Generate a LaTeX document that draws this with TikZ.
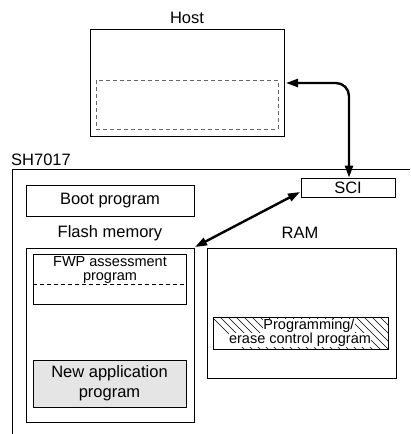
\documentclass[tikz,border=0pt]{standalone}
\usepackage{fontspec}
\setmainfont{Liberation Sans}
\usetikzlibrary{arrows.meta}
\begin{document}
\begin{tikzpicture}[x=1bp,y=-1bp,
  box/.style={draw,line width=0.8bp},
  lbl/.style={font=\fontsize{16.5bp}{18bp}\selectfont,inner sep=0},
  small/.style={font=\fontsize{14.5bp}{13.5bp}\selectfont,inner sep=0,align=center},
  bigarrow/.style={line width=2.4bp,{Triangle[length=12bp,width=8bp]}-{Triangle[length=12bp,width=8bp]}}]
\useasboundingbox (0,0) rectangle (410,434);
% Host
\node[lbl] (hostlbl) at (187,18) {Host};
\draw[box] (90,29) rectangle (284,136);
\coordinate (hostin) at (286,83);
\draw[line width=0.8bp,dashed,dash pattern=on 4bp off 3bp,gray!80!black] (96,80) rectangle (278,129);
% SH7017
\node[lbl,anchor=west] (shlbl) at (11,160) {SH7017};
\draw[line width=0.8bp] (410,169) -- (12,169) -- (12,434);
% SCI
\node[box,lbl,minimum width=94bp,minimum height=19bp] (sci) at (348,187.5) {SCI};
% Boot
\node[box,lbl,minimum width=168bp,minimum height=31bp] (boot) at (110,200.5) {Boot program};
% Flash
\node[lbl] (flashlbl) at (110,233) {Flash memory};
\draw[box] (26,248) rectangle (194,422);
\coordinate (flashtr) at (195,247);
\draw[box] (33,254) rectangle (186,304);
\draw[line width=0.8bp,dashed,dash pattern=on 4bp off 3bp] (33,284) -- (186,284);
\node[small] (fwp) at (110,270) {FWP assessment\\program};
\node[box,fill=black!10,lbl,align=center,minimum width=153bp,minimum height=47bp] (newapp) at (109.5,383.5) {New application\\[2bp]program};
% RAM
\node[lbl] (ramlbl) at (300,233) {RAM};
\draw[box] (207,248) rectangle (396,378);
\begin{scope}
\clip (213,317) rectangle (388,349);
\foreach \i in {0,8,...,220} {
  \draw[line width=0.6bp] (200+\i,305) -- (250+\i,355);
}
\end{scope}
\draw[box] (213,317) rectangle (388,349);
\node[small,fill=white,inner sep=0.5bp] (prog1) at (309,326) {Programming/};
\node[small,fill=white,inner sep=0.5bp] (prog2) at (300,340) {erase control program};
% arrows
\coordinate (sciin) at (300,192);
\draw[bigarrow,rounded corners=13bp] (hostin) -- (349,83) -- (sci.north -| 349,0);
\draw[bigarrow] (sciin) -- (flashtr);
\end{tikzpicture}
\end{document}
